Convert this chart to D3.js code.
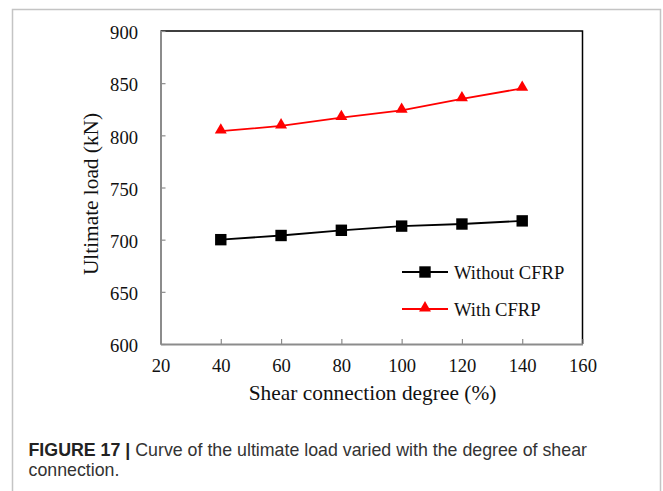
<!DOCTYPE html>
<html>
<head>
<meta charset="utf-8">
<script src="https://cdn.jsdelivr.net/npm/d3@7"></script>
<style>
  html, body { margin: 0; padding: 0; background: #fff; }
  svg { display: block; }
</style>
</head>
<body>
<svg id="chart" width="663" height="491"></svg>
<script>
// Ultimate load against degree of shear connection
const degrees = [40, 60, 80, 100, 120, 140];
const withoutCFRP = [700, 704, 709, 713, 715, 718];
const withCFRP = [804, 809, 817, 824, 835, 845];
const xTicks = [20, 40, 60, 80, 100, 120, 140, 160];
const yTicks = [600, 650, 700, 750, 800, 850, 900];
const seriesNames = ["Without CFRP", "With CFRP"];

const svg = d3.select("#chart");
const serif = "'Liberation Serif', 'Times New Roman', serif";
const sans = "'Liberation Sans', Arial, Helvetica, sans-serif";

// figure frame
svg.append("path")
  .attr("d", "M12.5,491 V9.5 H660.5 V491")
  .attr("fill", "none").attr("stroke", "#c4c4c4").attr("stroke-width", 1.5);

const plot = { left: 160.5, right: 582.5, top: 31, bottom: 344 };
const x = d3.scaleLinear().domain([20, 160]).range([plot.left, plot.right]);
const y = d3.scaleLinear().domain([600, 900]).range([plot.bottom, plot.top]);

// top and right frame of the plot
svg.append("path")
  .attr("d", `M${plot.left},${plot.top} H${plot.right} V${plot.bottom}`)
  .attr("fill", "none").attr("stroke", "#000").attr("stroke-width", 1.5);

// left axis
const yAxis = svg.append("g")
  .attr("transform", `translate(${plot.left},0)`)
  .call(d3.axisLeft(y).tickValues(yTicks).tickSizeInner(-5).tickSizeOuter(0).tickPadding(22.5));
yAxis.select(".domain").attr("stroke", "#8c8c8c").attr("stroke-width", 2);
yAxis.selectAll(".tick line").attr("stroke", "#8c8c8c").attr("stroke-width", 1.2);
yAxis.selectAll(".tick text")
  .attr("font-family", serif).attr("font-size", 18.6).attr("fill", "#111")
  .attr("dy", "0.42em");

// bottom axis
const xAxis = svg.append("g")
  .attr("transform", `translate(0,${plot.bottom})`)
  .call(d3.axisBottom(x).tickValues(xTicks).tickSizeInner(-5).tickSizeOuter(0).tickPadding(15));
xAxis.select(".domain").attr("stroke", "#8c8c8c").attr("stroke-width", 2);
xAxis.selectAll(".tick line").attr("stroke", "#8c8c8c").attr("stroke-width", 1.2);
xAxis.selectAll(".tick text")
  .attr("font-family", serif).attr("font-size", 18.6).attr("fill", "#111");

// axis titles
svg.append("text")
  .attr("x", 372.5).attr("y", 400)
  .attr("text-anchor", "middle")
  .attr("font-family", serif).attr("font-size", 21.4).attr("fill", "#111")
  .text("Shear connection degree (%)");
svg.append("text")
  .attr("transform", "translate(98,194) rotate(-90)")
  .attr("text-anchor", "middle")
  .attr("font-family", serif).attr("font-size", 21.3).attr("fill", "#111")
  .text("Ultimate load (kN)");

const line = d3.line().x(d => x(d[0])).y(d => y(d[1]));
const tri = d3.symbol().type(d3.symbolTriangle).size(62);
const sq = d3.symbol().type(d3.symbolSquare).size(130);

const seriesData = [
  { name: seriesNames[0], values: withoutCFRP, color: "#000", symbol: sq, dy: 0 },
  { name: seriesNames[1], values: withCFRP, color: "#ff0000", symbol: tri, dy: -1 }
];

seriesData.forEach(s => {
  const pts = degrees.map((d, i) => [d, s.values[i]]);
  svg.append("path").datum(pts)
    .attr("d", line).attr("fill", "none")
    .attr("stroke", s.color).attr("stroke-width", 1.8);
  svg.selectAll(null).data(pts).enter().append("path")
    .attr("d", s.symbol)
    .attr("transform", d => `translate(${x(d[0])},${y(d[1]) + s.dy})`)
    .attr("fill", s.color);
});

// legend
const legend = svg.append("g");
seriesData.forEach((s, i) => {
  const ly = 272 + i * 37;
  legend.append("line")
    .attr("x1", 402).attr("x2", 448).attr("y1", ly).attr("y2", ly)
    .attr("stroke", s.color).attr("stroke-width", 1.8);
  legend.append("path")
    .attr("d", s.symbol)
    .attr("transform", `translate(425,${ly + s.dy})`)
    .attr("fill", s.color);
  legend.append("text")
    .attr("x", 454).attr("y", ly + 7)
    .attr("font-family", serif).attr("font-size", 18.6).attr("fill", "#111")
    .text(s.name);
});

// caption
const cap = svg.append("text")
  .attr("x", 28.5).attr("y", 456)
  .attr("font-family", sans).attr("font-size", 17.8).attr("fill", "#333");
cap.append("tspan").attr("font-weight", "bold").attr("fill", "#222").text("FIGURE 17 | ");
cap.append("tspan").text("Curve of the ultimate load varied with the degree of shear");
svg.append("text")
  .attr("x", 28.5).attr("y", 476)
  .attr("font-family", sans).attr("font-size", 17.8).attr("fill", "#333")
  .text("connection.");
</script>
</body>
</html>
